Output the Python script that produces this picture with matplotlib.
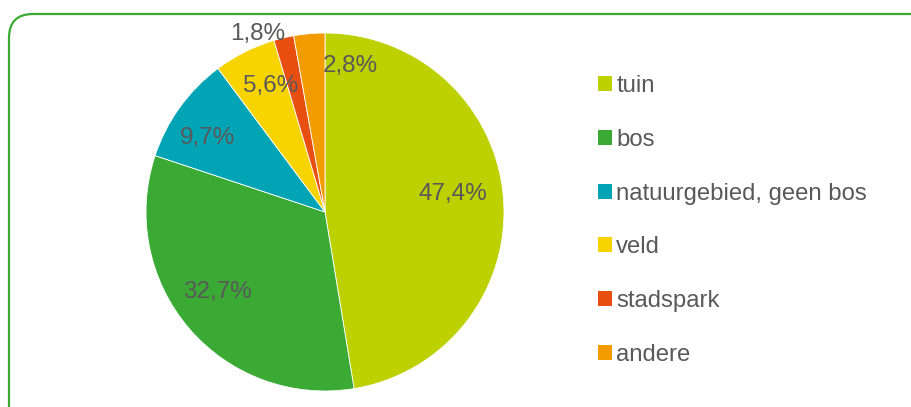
import matplotlib
matplotlib.use("Agg")
import matplotlib.pyplot as plt
from matplotlib.patches import FancyBboxPatch, Patch
from matplotlib.transforms import Affine2D
import numpy as np

plt.rcParams['font.family'] = ['Liberation Sans', 'DejaVu Sans']

categories = ["tuin", "bos", "natuurgebied, geen bos", "veld", "stadspark", "andere"]
values = [47.4, 32.7, 9.7, 5.6, 1.8, 2.8]
labels = ["47,4%", "32,7%", "9,7%", "5,6%", "1,8%", "2,8%"]
colors = ["#BDD000", "#3BAA35", "#00A4B5", "#F7D300", "#E84E10", "#F39C00"]

# label placement style: radius factor and angle shift (deg)
label_r = [0.724, 0.74, 0.78, 0.78, 1.075, 0.84]
label_dang = [4.2, -4.8, 2.8, -3.7, 7.1, -14.6]

W, H = 911, 407
fig = plt.figure(figsize=(W / 100, H / 100), dpi=100)

# rounded border, in pixel units
pix = Affine2D().scale(1 / W, 1 / H) + fig.transFigure
border = FancyBboxPatch((9, -60), 1000, H - 14 + 60,
                        boxstyle="round,pad=0,rounding_size=24",
                        transform=pix, facecolor="none",
                        edgecolor="#3BAA35", linewidth=1.6, zorder=5)
fig.patches.append(border)

cx, cy, R = 325, 212, 179
ax = fig.add_axes([(cx - R) / W, (H - cy - R) / H, 2 * R / W, 2 * R / H])
wedges, _ = ax.pie(values, colors=colors, startangle=90, counterclock=False,
                   radius=1.0, wedgeprops=dict(edgecolor="white", linewidth=0.6))
ax.set_xlim(-1, 1)
ax.set_ylim(-1, 1)
ax.set_aspect("equal")
ax.axis("off")

for w, lab, rf, da in zip(wedges, labels, label_r, label_dang):
    ang = np.deg2rad((w.theta1 + w.theta2) / 2 + da)
    ax.text(rf * np.cos(ang), rf * np.sin(ang), lab, ha="center",
            va="center_baseline", fontsize=17.5, color="#595959", clip_on=False)

handles = [Patch(facecolor=c, edgecolor="none") for c in colors]
leg = fig.legend(handles, categories, loc="upper left",
                 bbox_to_anchor=(598 / W, 1 - 75 / H), frameon=False,
                 fontsize=17.2, labelcolor="#595959", handlelength=0.6,
                 handleheight=0.6, handletextpad=0.17, labelspacing=1.33,
                 borderpad=0, borderaxespad=0)

fig.savefig("out.png", dpi=100)
